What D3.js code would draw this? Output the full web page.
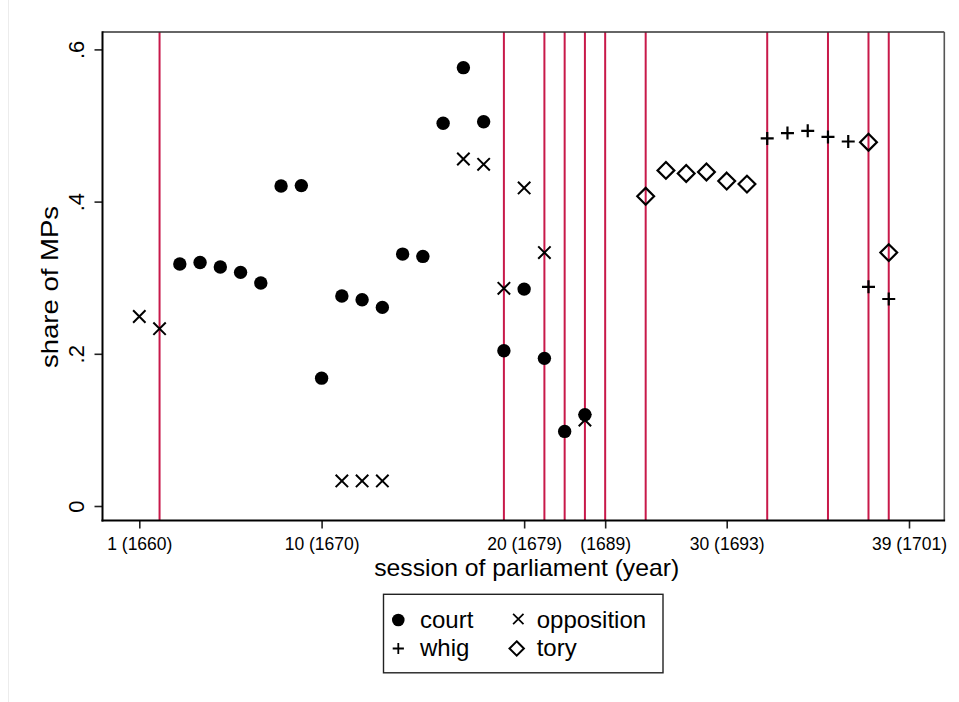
<!DOCTYPE html>
<html>
<head>
<meta charset="utf-8">
<script src="https://cdn.jsdelivr.net/npm/d3@7"></script>
<style>
  body { margin: 0; background: #fff; }
  svg { display: block; }
  text { font-family: "Liberation Sans", Arial, Helvetica, sans-serif; fill: #000; }
</style>
</head>
<body>
<svg id="chart" width="959" height="702"></svg>
<script>
// Share of MPs by faction, per session of parliament
const courtSessions = [3, 4, 5, 6, 7, 8, 9, 10, 11, 12, 13, 14, 15, 16, 17, 18, 19, 20, 21, 22, 23];
const courtShares   = [0.318, 0.320, 0.314, 0.307, 0.293, 0.4205, 0.421, 0.168, 0.276, 0.271, 0.261,
                       0.331, 0.328, 0.503, 0.576, 0.505, 0.204, 0.285, 0.194, 0.098, 0.120];

const oppositionSessions = [1, 2, 11, 12, 13, 17, 18, 19, 20, 21, 23];
const oppositionShares   = [0.249, 0.233, 0.033, 0.033, 0.033, 0.456, 0.449, 0.286, 0.418, 0.333, 0.113];

const whigSessions = [32, 33, 34, 35, 36, 37, 38];
const whigShares   = [0.483, 0.490, 0.493, 0.485, 0.479, 0.288, 0.272];

const torySessions = [26, 27, 28, 29, 30, 31, 37, 38];
const toryShares   = [0.407, 0.441, 0.437, 0.439, 0.427, 0.423, 0.478, 0.333];

// sessions marked with a vertical rule (general elections)
const electionSessions = [2, 19, 21, 22, 23, 24, 26, 32, 35, 37, 38];

const xTickValues = [1, 10, 20, 24, 30, 39];
const xTickLabels = ["1 (1660)", "10 (1670)", "20 (1679)", "(1689)", "30 (1693)", "39 (1701)"];
const yTickValues = [0, 0.2, 0.4, 0.6];
const yTickLabels = ["0", ".2", ".4", ".6"];

const svg = d3.select("#chart");
const W = 959, H = 702;

// plot region
const plot = { left: 102.5, right: 944.3, top: 32, bottom: 520.5 };

const x = d3.scaleLinear().domain([1, 39]).range([139.3, 909]);
const y = d3.scaleLinear().domain([0, 0.6]).range([506, 49.4]);

// faint outer graph border
svg.append("line")
  .attr("x1", 8.5).attr("x2", 8.5).attr("y1", 0).attr("y2", H)
  .attr("stroke", "#ececec").attr("stroke-width", 1);

// election rules
svg.append("g").selectAll("line")
  .data(electionSessions)
  .join("line")
  .attr("x1", d => x(d)).attr("x2", d => x(d))
  .attr("y1", plot.top).attr("y2", plot.bottom)
  .attr("stroke", "#c8194a").attr("stroke-width", 2);

// plot region outline (top/right)
svg.append("line")
  .attr("x1", plot.left).attr("x2", plot.right).attr("y1", plot.top).attr("y2", plot.top)
  .attr("stroke", "#333").attr("stroke-width", 1.6);
svg.append("line")
  .attr("x1", plot.right).attr("x2", plot.right).attr("y1", plot.top).attr("y2", plot.bottom)
  .attr("stroke", "#555").attr("stroke-width", 1.6);

// x axis
const xAxis = d3.axisBottom(x)
  .tickValues(xTickValues)
  .tickFormat((d, i) => xTickLabels[i])
  .tickSize(8)
  .tickPadding(9);
const gx = svg.append("g").attr("transform", `translate(0,${plot.bottom})`).call(xAxis);
gx.select(".domain").remove();
gx.selectAll(".tick line").attr("stroke", "#222").attr("stroke-width", 1.6);
gx.selectAll(".tick text").style("font-size", "17.5px")
  .attr("fill", "#000");
svg.append("line")
  .attr("x1", plot.left - 1).attr("x2", plot.right + 0.8)
  .attr("y1", plot.bottom).attr("y2", plot.bottom)
  .attr("stroke", "#000").attr("stroke-width", 2);

// y axis
const yAxis = d3.axisLeft(y)
  .tickValues(yTickValues)
  .tickFormat((d, i) => yTickLabels[i])
  .tickSize(8);
const gy = svg.append("g").attr("transform", `translate(${plot.left},0)`).call(yAxis);
gy.select(".domain").remove();
gy.selectAll(".tick line").attr("stroke", "#222").attr("stroke-width", 1.6);
gy.selectAll(".tick text")
  .style("font-size", "22px")
  .attr("transform", "rotate(-90)")
  .attr("x", 0).attr("y", -19).attr("dy", 0)
  .attr("text-anchor", "middle")
  .attr("fill", "#000");
svg.append("line")
  .attr("x1", plot.left).attr("x2", plot.left)
  .attr("y1", plot.top - 0.8).attr("y2", plot.bottom + 1)
  .attr("stroke", "#000").attr("stroke-width", 2);

// axis titles
svg.append("text")
  .attr("x", 526.7).attr("y", 576)
  .attr("text-anchor", "middle")
  .style("font-size", "24px")
  .attr("textLength", 305).attr("lengthAdjust", "spacingAndGlyphs")
  .text("session of parliament (year)");
svg.append("text")
  .attr("transform", "translate(58.3,287) rotate(-90)")
  .attr("text-anchor", "middle")
  .style("font-size", "24px")
  .attr("textLength", 162).attr("lengthAdjust", "spacingAndGlyphs")
  .text("share of MPs");

// marker shapes
const sym = {
  court: (g, cx, cy) => g.append("circle").attr("cx", cx).attr("cy", cy).attr("r", 6.7).attr("fill", "#000"),
  opposition: (g, cx, cy) => {
    const h = 6.2;
    g.append("path")
      .attr("d", `M${cx - h},${cy - h}L${cx + h},${cy + h}M${cx - h},${cy + h}L${cx + h},${cy - h}`)
      .attr("stroke", "#000").attr("stroke-width", 2).attr("fill", "none");
  },
  whig: (g, cx, cy) => {
    const h = 6.5;
    g.append("path")
      .attr("d", `M${cx - h},${cy}L${cx + h},${cy}M${cx},${cy - h}L${cx},${cy + h}`)
      .attr("stroke", "#000").attr("stroke-width", 2.2).attr("fill", "none");
  },
  tory: (g, cx, cy) => {
    const h = 8.4;
    g.append("path")
      .attr("d", `M${cx},${cy - h}L${cx + h},${cy}L${cx},${cy + h}L${cx - h},${cy}Z`)
      .attr("stroke", "#000").attr("stroke-width", 2.2).attr("fill", "none");
  }
};

const series = [
  { key: "opposition", s: oppositionSessions, v: oppositionShares },
  { key: "court", s: courtSessions, v: courtShares },
  { key: "whig", s: whigSessions, v: whigShares },
  { key: "tory", s: torySessions, v: toryShares }
];

const gm = svg.append("g");
series.forEach(ser => {
  ser.s.forEach((sess, i) => sym[ser.key](gm, x(sess), y(ser.v[i])));
});

// legend
const lg = svg.append("g");
lg.append("rect")
  .attr("x", 383.5).attr("y", 594.3).attr("width", 279.5).attr("height", 78.5)
  .attr("fill", "#fff").attr("stroke", "#222").attr("stroke-width", 1.4);
const legendItems = [
  { key: "court", label: "court", sx: 398.3, sy: 620, tx: 420, ty: 628 },
  { key: "opposition", label: "opposition", sx: 518.3, sy: 619, tx: 536.7, ty: 628 },
  { key: "whig", label: "whig", sx: 398.3, sy: 648.5, tx: 420, ty: 656 },
  { key: "tory", label: "tory", sx: 516.7, sy: 648.5, tx: 536.7, ty: 656 }
];
legendItems.forEach(it => {
  const sg = lg.append("g");
  if (it.key === "court") {
    sg.append("circle").attr("cx", it.sx).attr("cy", it.sy).attr("r", 6.3).attr("fill", "#000");
  } else if (it.key === "opposition") {
    const h = 5.2;
    sg.append("path")
      .attr("d", `M${it.sx - h},${it.sy - h}L${it.sx + h},${it.sy + h}M${it.sx - h},${it.sy + h}L${it.sx + h},${it.sy - h}`)
      .attr("stroke", "#000").attr("stroke-width", 1.7).attr("fill", "none");
  } else if (it.key === "whig") {
    const h = 5.6;
    sg.append("path")
      .attr("d", `M${it.sx - h},${it.sy}L${it.sx + h},${it.sy}M${it.sx},${it.sy - h}L${it.sx},${it.sy + h}`)
      .attr("stroke", "#000").attr("stroke-width", 1.8).attr("fill", "none");
  } else {
    const h = 7.2;
    sg.append("path")
      .attr("d", `M${it.sx},${it.sy - h}L${it.sx + h},${it.sy}L${it.sx},${it.sy + h}L${it.sx - h},${it.sy}Z`)
      .attr("stroke", "#000").attr("stroke-width", 2).attr("fill", "none");
  }
  lg.append("text")
    .attr("x", it.tx).attr("y", it.ty)
    .style("font-size", "24px")
    .text(it.label);
});
</script>
</body>
</html>
